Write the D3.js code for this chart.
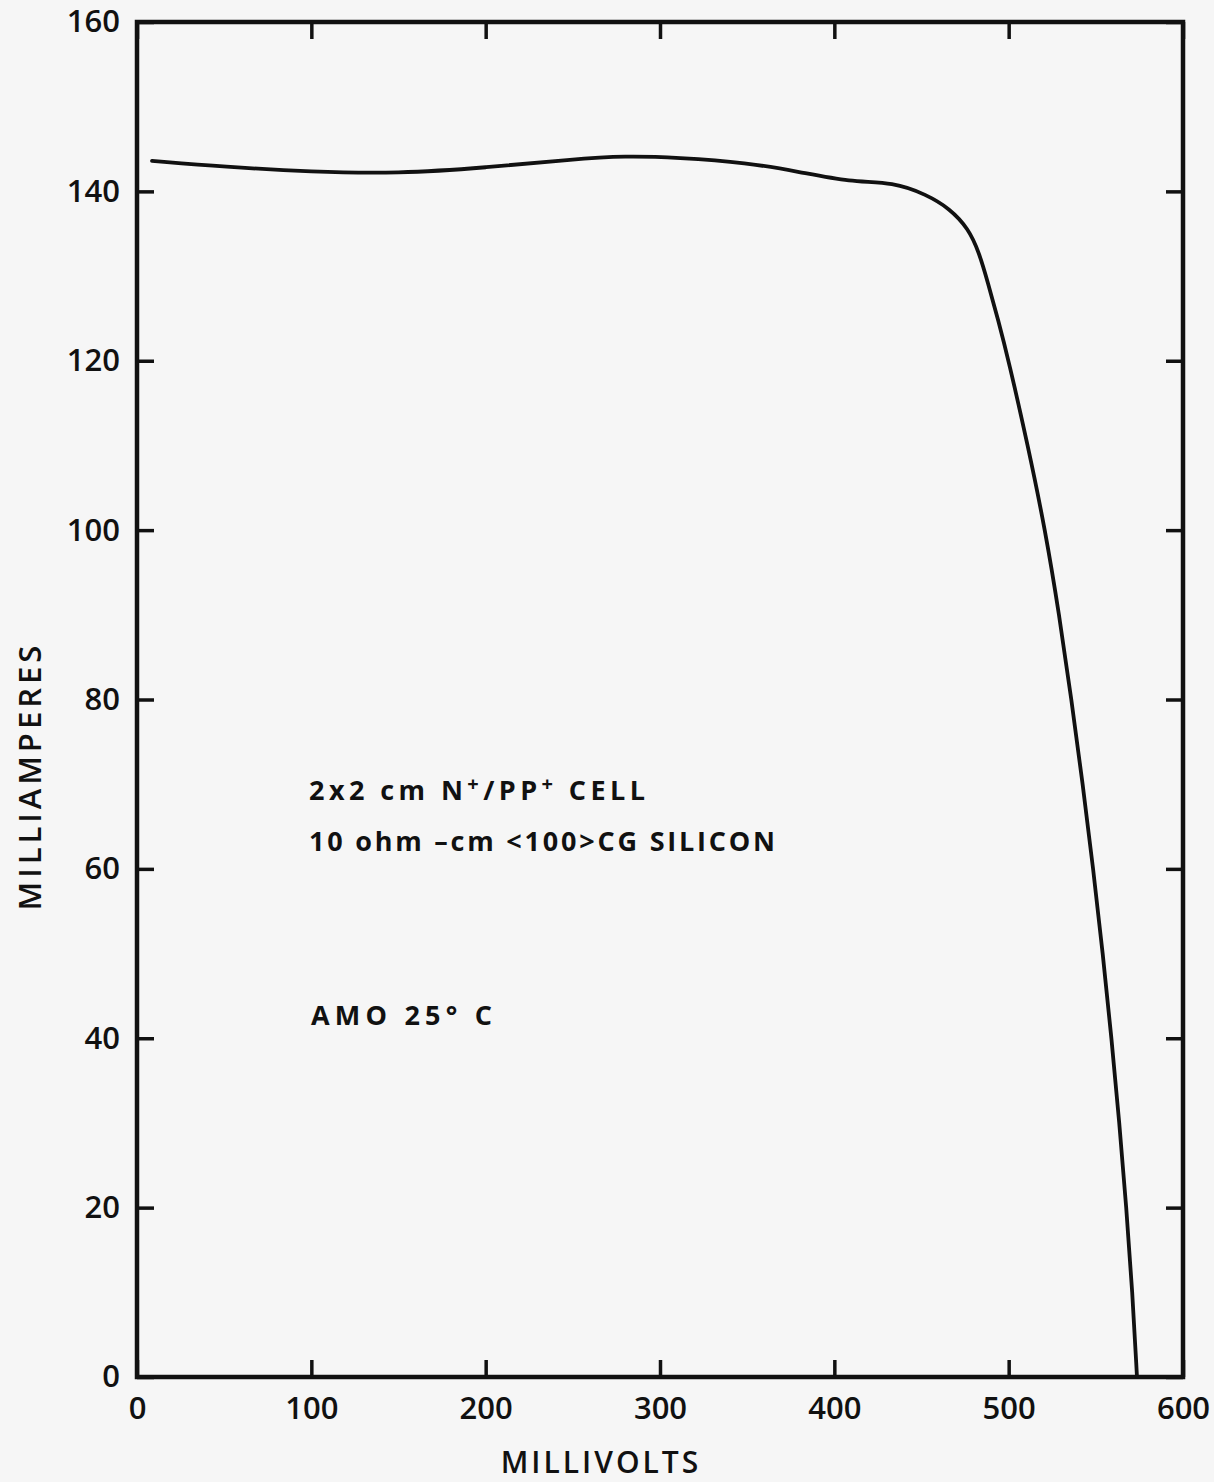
<!DOCTYPE html>
<html>
<head>
<meta charset="utf-8">
<script src="https://cdn.jsdelivr.net/npm/d3@7"></script>
<style>
  html, body { margin: 0; padding: 0; background: #f6f6f6; }
  svg { display: block; }
  .lbl { font-family: "Open Sans", "DejaVu Sans", sans-serif; fill: #111; }
</style>
</head>
<body>
<svg id="chart" width="1214" height="1482"></svg>
<script>
// I-V curve of a 2x2 cm N+/PP+ silicon cell, AM0, 25 °C
const millivolts = [8.6, 50, 100, 150, 200, 250, 280, 310, 350, 380, 409, 434, 453, 466, 477, 483, 488, 494, 500, 511, 521, 529, 536, 542.5, 548.5, 554, 559, 563.5, 567.5, 571, 573.6];
const milliamps  = [143.6, 142.9, 142.3, 142.1, 142.8, 143.8, 144.2, 144.0, 143.4, 142.3, 141.1, 141.1, 139.6, 138.0, 135.6, 132.8, 129.3, 124.8, 120, 110, 100, 90, 80, 70, 60, 50, 40, 30, 20, 10, 0];

const xTicks = [0, 100, 200, 300, 400, 500, 600];
const yTicks = [0, 20, 40, 60, 80, 100, 120, 140, 160];

const xTitle = "MILLIVOLTS";
const yTitle = "MILLIAMPERES";

const svg = d3.select("#chart");
const plotL = 137, plotR = 1183, plotT = 22, plotB = 1377;

const x = d3.scaleLinear().domain([0, 600]).range([plotL, plotR]);
const y = d3.scaleLinear().domain([0, 160]).range([plotB, plotT]);

const tickLen = 17;
const ink = "#111";

// inward tick marks on all four sides
function styleAxis(g) {
  g.select(".domain").remove();
  g.selectAll(".tick line").attr("stroke", ink).attr("stroke-width", 3.5);
  g.selectAll(".tick text").attr("class", "lbl").attr("fill", ink)
    .style("font-size", "31px").style("font-weight", 600);
}

svg.append("g").attr("transform", `translate(0,${plotB})`)
  .call(d3.axisBottom(x).tickValues(xTicks).tickSizeInner(-tickLen).tickSizeOuter(0).tickPadding(20).tickFormat(d3.format("d")))
  .call(styleAxis);
svg.append("g").attr("transform", `translate(0,${plotT})`)
  .call(d3.axisTop(x).tickValues(xTicks).tickSizeInner(-tickLen).tickSizeOuter(0).tickFormat(""))
  .call(styleAxis);
svg.append("g").attr("transform", `translate(${plotL},0)`)
  .call(d3.axisLeft(y).tickValues(yTicks).tickSizeInner(-tickLen).tickSizeOuter(0).tickPadding(17).tickFormat(d3.format("d")))
  .call(styleAxis);
svg.append("g").attr("transform", `translate(${plotR},0)`)
  .call(d3.axisRight(y).tickValues(yTicks).tickSizeInner(-tickLen).tickSizeOuter(0).tickFormat(""))
  .call(styleAxis);

// plot frame
svg.append("rect")
  .attr("x", plotL).attr("y", plotT)
  .attr("width", plotR - plotL).attr("height", plotB - plotT)
  .attr("fill", "none").attr("stroke", ink).attr("stroke-width", 4.5);

// the I-V curve, smoothed through the measured points
const pts = millivolts.map((v, i) => [v, milliamps[i]]);
const line = d3.line()
  .x(d => x(d[0])).y(d => y(d[1]))
  .curve(d3.curveBasis);
svg.append("path").datum(pts)
  .attr("d", line)
  .attr("fill", "none").attr("stroke", ink)
  .attr("stroke-width", 3.8).attr("stroke-linejoin", "round").attr("stroke-linecap", "round");

// axis titles
svg.append("text").attr("class", "lbl")
  .attr("x", 601).attr("y", 1473)
  .attr("text-anchor", "middle")
  .style("font-size", "30px").style("font-weight", 600).style("letter-spacing", "3px")
  .text(xTitle);
svg.append("text").attr("class", "lbl")
  .attr("transform", `translate(41,776) rotate(-90)`)
  .attr("text-anchor", "middle")
  .style("font-size", "31px").style("font-weight", 600).style("letter-spacing", "4px")
  .text(yTitle);

// cell description, with raised "+" signs
const noteStyle = t => t.attr("class", "lbl")
  .style("font-size", "27px").style("font-weight", 700)
  .attr("lengthAdjust", "spacing");

const n1 = svg.append("text").attr("x", 309).attr("y", 800).attr("textLength", 336).call(noteStyle);
n1.append("tspan").text("2x2 cm  N");
n1.append("tspan").attr("dy", -9).style("font-size", "20px").text("+");
n1.append("tspan").attr("dy", 9).text("/PP");
n1.append("tspan").attr("dy", -9).style("font-size", "20px").text("+");
n1.append("tspan").attr("dy", 9).text(" CELL");

svg.append("text").attr("x", 309).attr("y", 851).attr("textLength", 466).call(noteStyle)
  .text("10 ohm \u2013cm <100>CG  SILICON");

svg.append("text").attr("x", 311).attr("y", 1025).attr("textLength", 181).call(noteStyle)
  .text("AMO   25\u00B0 C");
</script>
</body>
</html>
